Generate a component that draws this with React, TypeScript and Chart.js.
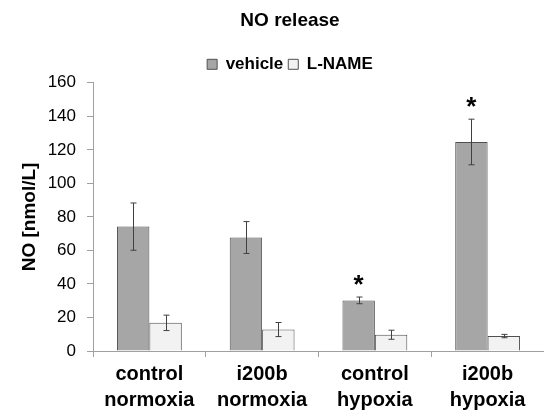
import React, { useEffect, useRef } from "react";
import { Chart, registerables } from "chart.js";

Chart.register(...registerables);

const categories: string[][] = [
  ["control", "normoxia"],
  ["i200b", "normoxia"],
  ["control", "hypoxia"],
  ["i200b", "hypoxia"],
];
const vehicleValues = [74.2, 67.7, 30.2, 124.7];
const vehicleErrors = [14.1, 9.5, 2.0, 13.6];
const lnameValues = [16.8, 12.8, 9.7, 8.9];
const lnameErrors = [4.6, 4.2, 2.7, 1.0];
const vehicleSignificant = [false, false, true, true];
const yTicks = [0, 20, 40, 60, 80, 100, 120, 140, 160];

const FONT = "'Liberation Sans', Arial, Helvetica, sans-serif";

const shiftHeaderPlugin = {
  id: "shiftHeader",
  afterLayout(chart: any) {
    if (chart.titleBlock) chart.titleBlock.left += 36;
    if (chart.legend) chart.legend.left += 36;
  },
};

const errorBarPlugin = {
  id: "errorBars",
  afterDatasetsDraw(chart: any) {
    const ctx = chart.ctx;
    const y = chart.scales.y;
    const errs = [vehicleErrors, lnameErrors];
    ctx.save();
    ctx.strokeStyle = "#404040";
    ctx.lineWidth = 1;
    chart.data.datasets.forEach((ds: any, di: number) => {
      const meta = chart.getDatasetMeta(di);
      meta.data.forEach((bar: any, i: number) => {
        const v = ds.data[i];
        const e = errs[di][i];
        const x = Math.round(bar.x) + 0.5;
        const yTop = y.getPixelForValue(v + e);
        const yBot = y.getPixelForValue(v - e);
        ctx.beginPath();
        ctx.moveTo(x, yTop);
        ctx.lineTo(x, yBot);
        ctx.moveTo(x - 3, yTop);
        ctx.lineTo(x + 3, yTop);
        ctx.moveTo(x - 3, yBot);
        ctx.lineTo(x + 3, yBot);
        ctx.stroke();
        if (di === 0 && vehicleSignificant[i]) {
          ctx.fillStyle = "#000";
          ctx.font = `bold 26px ${FONT}`;
          ctx.textAlign = "center";
          ctx.textBaseline = "alphabetic";
          ctx.fillText("*", bar.x, yTop - 4);
        }
      });
    });
    ctx.restore();
  },
};

export default function App() {
  const ref = useRef<HTMLCanvasElement>(null);
  useEffect(() => {
    document.body.style.margin = "0";
    const chart = new Chart(ref.current!, {
      type: "bar",
      data: {
        labels: categories,
        datasets: [
          {
            label: "vehicle",
            data: vehicleValues,
            backgroundColor: "#a6a6a6",
            borderColor: "#505050",
            borderWidth: 1,
            categoryPercentage: 0.575,
            barPercentage: 1.0,
          },
          {
            label: "L-NAME",
            data: lnameValues,
            backgroundColor: "#f2f2f2",
            borderColor: "#505050",
            borderWidth: 1,
            categoryPercentage: 0.575,
            barPercentage: 1.0,
          },
        ],
      },
      options: {
        animation: false,
        responsive: false,
        layout: { padding: { top: 0, right: 0, bottom: 0, left: 0 } },
        plugins: {
          title: {
            display: true,
            text: "NO release",
            color: "#000",
            font: { family: FONT, size: 19, weight: "bold" },
            padding: { top: 9, bottom: 19 },
          },
          legend: {
            display: true,
            labels: {
              color: "#000",
              font: { family: FONT, size: 17, weight: "bold" },
              boxWidth: 10,
              boxHeight: 10,
              padding: 5,
            },
          },
          tooltip: { enabled: false },
        },
        scales: {
          x: {
            grid: {
              drawOnChartArea: false,
              color: "#a0a0a0",
              tickLength: 6,
              offset: true,
            },
            border: { color: "#a0a0a0" },
            ticks: {
              color: "#000",
              font: { family: FONT, size: 20, weight: "bold", lineHeight: 1.28 },
              padding: 5,
              maxRotation: 0,
            },
            afterFit(scale: any) {
              scale.height = 62;
            },
          },
          y: {
            min: 0,
            max: 160,
            afterBuildTicks(scale: any) {
              scale.ticks = yTicks.map((v) => ({ value: v }));
            },
            grid: {
              drawOnChartArea: false,
              color: "#a0a0a0",
              tickLength: 6,
            },
            border: { color: "#a0a0a0" },
            ticks: {
              color: "#000",
              font: { family: FONT, size: 17 },
              padding: 11,
            },
            title: {
              display: true,
              text: "NO [nmol/L]",
              color: "#000",
              font: { family: FONT, size: 19, weight: "bold" },
              padding: { top: 18, bottom: 0 },
            },
            afterFit(scale: any) {
              scale.width = 93;
            },
          },
        },
      },
      plugins: [errorBarPlugin, shiftHeaderPlugin],
    });
    return () => chart.destroy();
  }, []);
  return (
    <div style={{ width: 544, height: 413 }}>
      <canvas ref={ref} width={544} height={413} />
    </div>
  );
}
